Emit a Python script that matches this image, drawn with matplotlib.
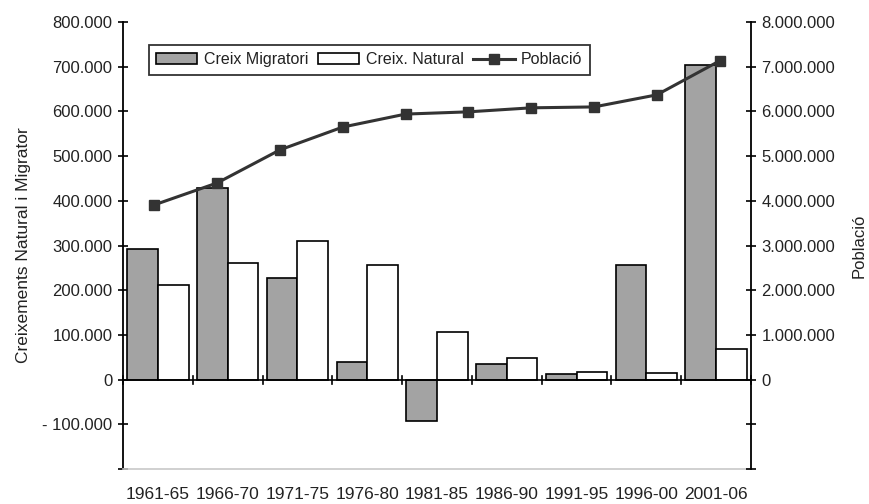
import matplotlib
matplotlib.use("Agg")
import matplotlib.pyplot as plt
from matplotlib.patches import Patch
from matplotlib.lines import Line2D
from matplotlib.ticker import FuncFormatter

plt.rcParams['font.family'] = ['Liberation Sans', 'DejaVu Sans']

periods = ['1961-65', '1966-70', '1971-75', '1976-80', '1981-85',
           '1986-90', '1991-95', '1996-00', '2001-06']
creix_migratori = [293000, 429000, 228000, 40000, -92000, 36000, 13000, 257000, 703000]
creix_natural = [212000, 261000, 311000, 257000, 107000, 49000, 16000, 15000, 69000]
pop_years = ['1960', '1965', '1970', '1975', '1981', '1986', '1991', '1996', '2001', '2006']
poblacio = [3910000, 4400000, 5140000, 5650000, 5940000, 5990000, 6080000, 6100000, 6370000, 7130000]

W, H = 869, 504
fig = plt.figure(figsize=(W / 100, H / 100), dpi=100)
ax = fig.add_axes([123 / W, 1 - 469 / H, 628 / W, 447 / H])

txt = '#222222'
n = len(periods)
x = list(range(n))
bw = 0.44
ax.bar([i - bw / 2 for i in x], creix_migratori, width=bw, color='#a3a3a3',
       edgecolor='black', linewidth=1.2, zorder=2)
ax.bar([i + bw / 2 for i in x], creix_natural, width=bw, color='white',
       edgecolor='black', linewidth=1.2, zorder=2)

ax.set_xlim(-0.5, n - 0.5)
ax.set_ylim(-200000, 800000)
ax.axhline(0, color='black', linewidth=1.2, zorder=3)
# category-boundary tick marks on the zero line
for b in range(n + 1):
    ax.plot([b - 0.5, b - 0.5], [-9000, 9000], color='black', linewidth=1.2,
            zorder=3, clip_on=False)

ax.set_xticks(x)
ax.set_xticklabels(periods, fontsize=12.5, color=txt)
ax.tick_params(axis='x', length=0, pad=13)

yt = list(range(-200000, 800001, 100000))
ax.set_yticks(yt)

def lfmt(v, pos):
    if v == -200000:
        return ''
    if v < 0:
        return '- ' + f"{int(-v):,}".replace(',', '.')
    return f"{int(v):,}".replace(',', '.')

ax.yaxis.set_major_formatter(FuncFormatter(lfmt))
ax.tick_params(axis='y', direction='inout', length=7, width=1.2, labelsize=12,
               labelcolor=txt, pad=4)
ax.set_ylabel('Creixements Natural i Migrator', fontsize=12.5, color=txt, labelpad=8)

ax.spines['top'].set_visible(False)
ax.spines['left'].set_linewidth(1.3)
ax.spines['right'].set_visible(False)
ax.spines['bottom'].set_color('#c8c8c8')
ax.spines['bottom'].set_linewidth(1.2)

ax2 = ax.twinx()
ax2.set_ylim(-2000000, 8000000)
ax2.set_yticks(list(range(-2000000, 8000001, 1000000)))

def rfmt(v, pos):
    if v < 0:
        return ''
    return f"{int(v):,}".replace(',', '.')

ax2.yaxis.set_major_formatter(FuncFormatter(rfmt))
ax2.tick_params(axis='y', direction='inout', length=7, width=1.2, labelsize=12,
                labelcolor=txt, pad=4)
ax2.set_ylabel('Població', fontsize=12, color=txt, labelpad=12)
for s in ['top', 'left', 'bottom']:
    ax2.spines[s].set_visible(False)
ax2.spines['right'].set_linewidth(1.3)

ax3 = ax2.twiny()
ax3.set_xlim(-0.5, len(pop_years) - 0.5)
ax3.plot(range(len(pop_years)), poblacio, color='#333333', linewidth=2.2,
         marker='s', markersize=7, markerfacecolor='#333333',
         markeredgecolor='#333333', zorder=4)
ax3.set_xticks([])
for s in ax3.spines.values():
    s.set_visible(False)

handles = [Patch(facecolor='#a3a3a3', edgecolor='black', linewidth=1.2),
           Patch(facecolor='white', edgecolor='black', linewidth=1.2),
           Line2D([], [], color='#333333', linewidth=2.2, marker='s',
                  markersize=7)]
labels = ['Creix Migratori', 'Creix. Natural', 'Població']
leg = ax3.legend(handles, labels, loc='upper left', bbox_to_anchor=(0.041, 0.948),
                 ncol=3, fontsize=11.5, frameon=True, fancybox=False,
                 edgecolor='black', borderpad=0.45, handlelength=2.6,
                 handletextpad=0.4, columnspacing=0.6, borderaxespad=0)
leg.get_frame().set_linewidth(1.3)
for t in leg.get_texts():
    t.set_color(txt)

fig.savefig('out.png', dpi=100)
